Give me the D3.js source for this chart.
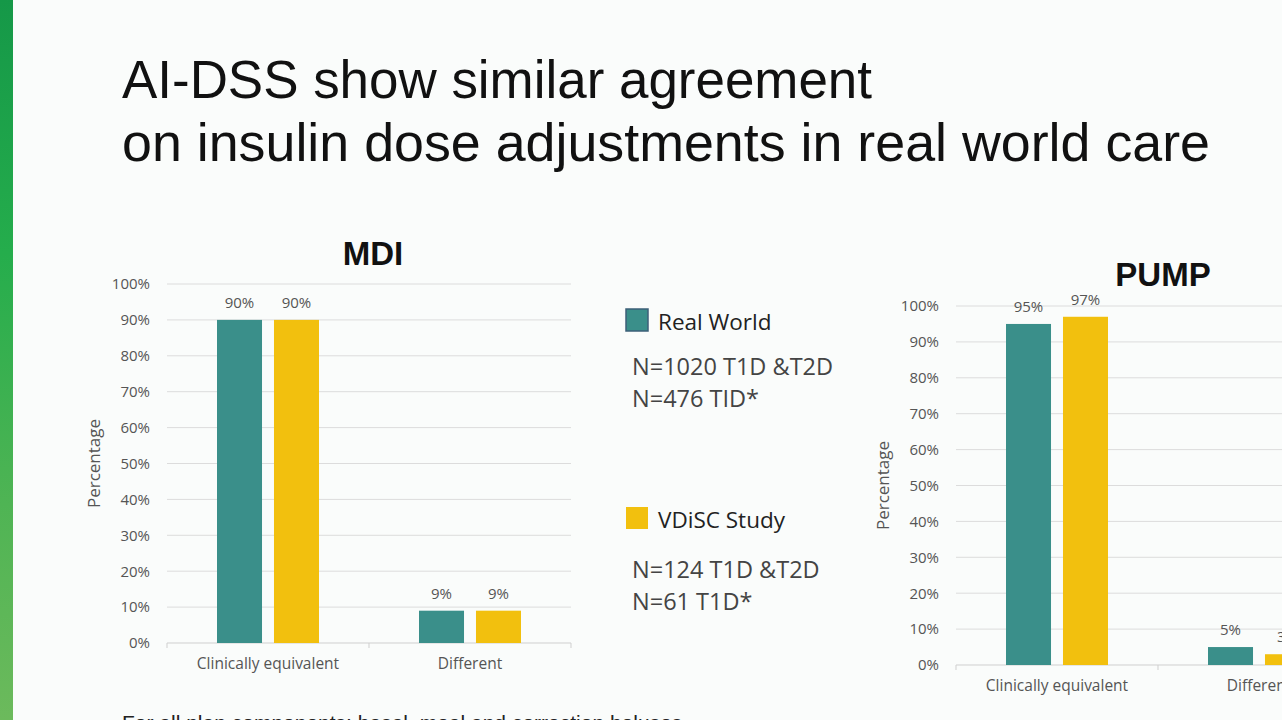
<!DOCTYPE html>
<html><head><meta charset="utf-8">
<script src="https://cdn.jsdelivr.net/npm/d3@7"></script>
<style>
html,body{margin:0;padding:0;background:#fafcfb;overflow:hidden;}
svg{display:block;}
</style></head>
<body>
<script>
// ---- data ----
const categories = ["Clinically equivalent", "Different"];
const seriesNames = ["Real World", "VDiSC Study"];
const mdiRealWorld = [90, 9];
const mdiVdisc = [90, 9];
const pumpRealWorld = [95, 5];
const pumpVdisc = [97, 3];
const yTickValues = [0, 10, 20, 30, 40, 50, 60, 70, 80, 90, 100];
const titleLines = ["AI-DSS show similar agreement", "on insulin dose adjustments in real world care"];
const legendNotes = [["N=1020 T1D &T2D", "N=476 TID*"], ["N=124 T1D &T2D", "N=61 T1D*"]];
const footnote = "For all plan components: basal, meal and correction boluses";

const colors = ["#3a8f8a", "#f2c00e"];
const W = 1282, H = 720;
const svg = d3.select("body").append("svg").attr("width", W).attr("height", H);

// background
svg.append("rect").attr("width", W).attr("height", H).attr("fill", "#fafcfb");
// left green strip
const grad = svg.append("defs").append("linearGradient").attr("id", "g").attr("x1", 0).attr("x2", 0).attr("y1", 0).attr("y2", 1);
grad.append("stop").attr("offset", "0%").attr("stop-color", "#159848");
grad.append("stop").attr("offset", "35%").attr("stop-color", "#25ad4c");
grad.append("stop").attr("offset", "70%").attr("stop-color", "#4fb454");
grad.append("stop").attr("offset", "100%").attr("stop-color", "#6cba5c");
svg.append("rect").attr("x", 0).attr("y", 0).attr("width", 13).attr("height", H).attr("fill", "url(#g)");

// title
const tl = [[98, 750], [161, 1088]];
titleLines.forEach((t, i) => {
  svg.append("text").attr("x", 122).attr("y", tl[i][0]).text(t)
    .attr("font-family", "Liberation Sans, Arial, sans-serif").attr("font-size", 53)
    .attr("fill", "#111").attr("textLength", tl[i][1]).attr("lengthAdjust", "spacingAndGlyphs");
});

const tickFont = 15;
function chart(opts) {
  const g = svg.append("g");
  const x = d3.scaleBand().domain(categories).range([opts.x0, opts.x0 + 404]).paddingInner(0).paddingOuter(0);
  const y = d3.scaleLinear().domain([0, 100]).range([opts.yBottom, opts.yBottom - 359]);
  const inner = d3.scaleBand().domain(seriesNames).range([0, 102]).paddingInner(0.21);

  // gridlines
  g.selectAll("line.grid").data(yTickValues.filter(v => v > 0)).join("line")
    .attr("x1", opts.x0).attr("x2", opts.x0 + 404)
    .attr("y1", d => y(d)).attr("y2", d => y(d))
    .attr("stroke", "#dcdcdc").attr("stroke-width", 1);

  // y axis labels
  const ya = g.append("g").attr("transform", `translate(${opts.x0},0)`)
    .call(d3.axisLeft(y).tickValues(yTickValues).tickFormat(d => d + "%").tickSize(0).tickPadding(17));
  ya.select(".domain").remove();
  ya.selectAll("text").attr("font-family", "Open Sans, sans-serif").attr("font-size", tickFont).attr("fill", "#555");

  // x axis
  const xa = g.append("g").attr("transform", `translate(0,${opts.yBottom})`)
    .call(d3.axisBottom(x).tickSize(0).tickPadding(15));
  xa.select(".domain").attr("stroke", "#cfcfcf").attr("d", `M${opts.x0},5V0H${opts.x0 + 404}V5`);
  xa.selectAll("text").attr("font-family", "Open Sans, sans-serif").attr("font-size", 15.5).attr("fill", "#555");
  g.append("line").attr("x1", opts.x0 + 202).attr("x2", opts.x0 + 202)
    .attr("y1", opts.yBottom).attr("y2", opts.yBottom + 5).attr("stroke", "#cfcfcf");

  const data = [];
  categories.forEach((c, ci) => {
    opts.series.forEach((s, si) => data.push({ c, s: seriesNames[si], v: s[ci], si }));
  });
  g.selectAll("rect.bar").data(data).join("rect")
    .attr("x", d => x(d.c) + 50 + inner(d.s))
    .attr("width", inner.bandwidth())
    .attr("y", d => y(d.v)).attr("height", d => y(0) - y(d.v))
    .attr("fill", d => colors[d.si]);
  g.selectAll("text.val").data(data).join("text")
    .attr("x", d => x(d.c) + 50 + inner(d.s) + inner.bandwidth() / 2)
    .attr("y", d => y(d.v) - 12).attr("text-anchor", "middle")
    .attr("font-family", "Open Sans, sans-serif").attr("font-size", tickFont).attr("fill", "#555")
    .text(d => d.v + "%");

  // y title
  g.append("text").attr("transform", `translate(${opts.x0 - 67},${y(50)}) rotate(-90)`)
    .attr("text-anchor", "middle").attr("font-family", "Open Sans, sans-serif")
    .attr("font-size", 17).attr("fill", "#555").text("Percentage");

  // chart title
  svg.append("text").attr("x", opts.titleX).attr("y", opts.titleY).attr("text-anchor", "middle")
    .attr("font-family", "Liberation Sans, Arial, sans-serif").attr("font-weight", "bold")
    .attr("font-size", 33).attr("fill", "#111").text(opts.title);
}

chart({ x0: 167, yBottom: 643, series: [mdiRealWorld, mdiVdisc], title: "MDI", titleX: 373, titleY: 265 });
chart({ x0: 956, yBottom: 665, series: [pumpRealWorld, pumpVdisc], title: "PUMP", titleX: 1163, titleY: 286 });

// legend
const legY = [[309, 330, 375, 407], [507, 528, 578, 610]];
seriesNames.forEach((s, i) => {
  svg.append("rect").attr("x", 626).attr("y", legY[i][0]).attr("width", 22).attr("height", 22)
    .attr("fill", colors[i]).attr("stroke", i === 0 ? "#3c5f78" : "none").attr("stroke-width", 1.5);
  svg.append("text").attr("x", 658).attr("y", legY[i][1]).text(s)
    .attr("font-family", "Open Sans, sans-serif").attr("font-size", 22.5).attr("fill", "#222");
  legendNotes[i].forEach((n, j) => {
    svg.append("text").attr("x", 632).attr("y", legY[i][2 + j]).text(n)
      .attr("font-family", "Open Sans, sans-serif").attr("font-size", 23.5).attr("fill", "#444");
  });
});

// footnote
svg.append("text").attr("x", 122).attr("y", 730).text(footnote)
  .attr("font-family", "Liberation Sans, Arial, sans-serif").attr("font-size", 21).attr("fill", "#222");
</script>
</body></html>
